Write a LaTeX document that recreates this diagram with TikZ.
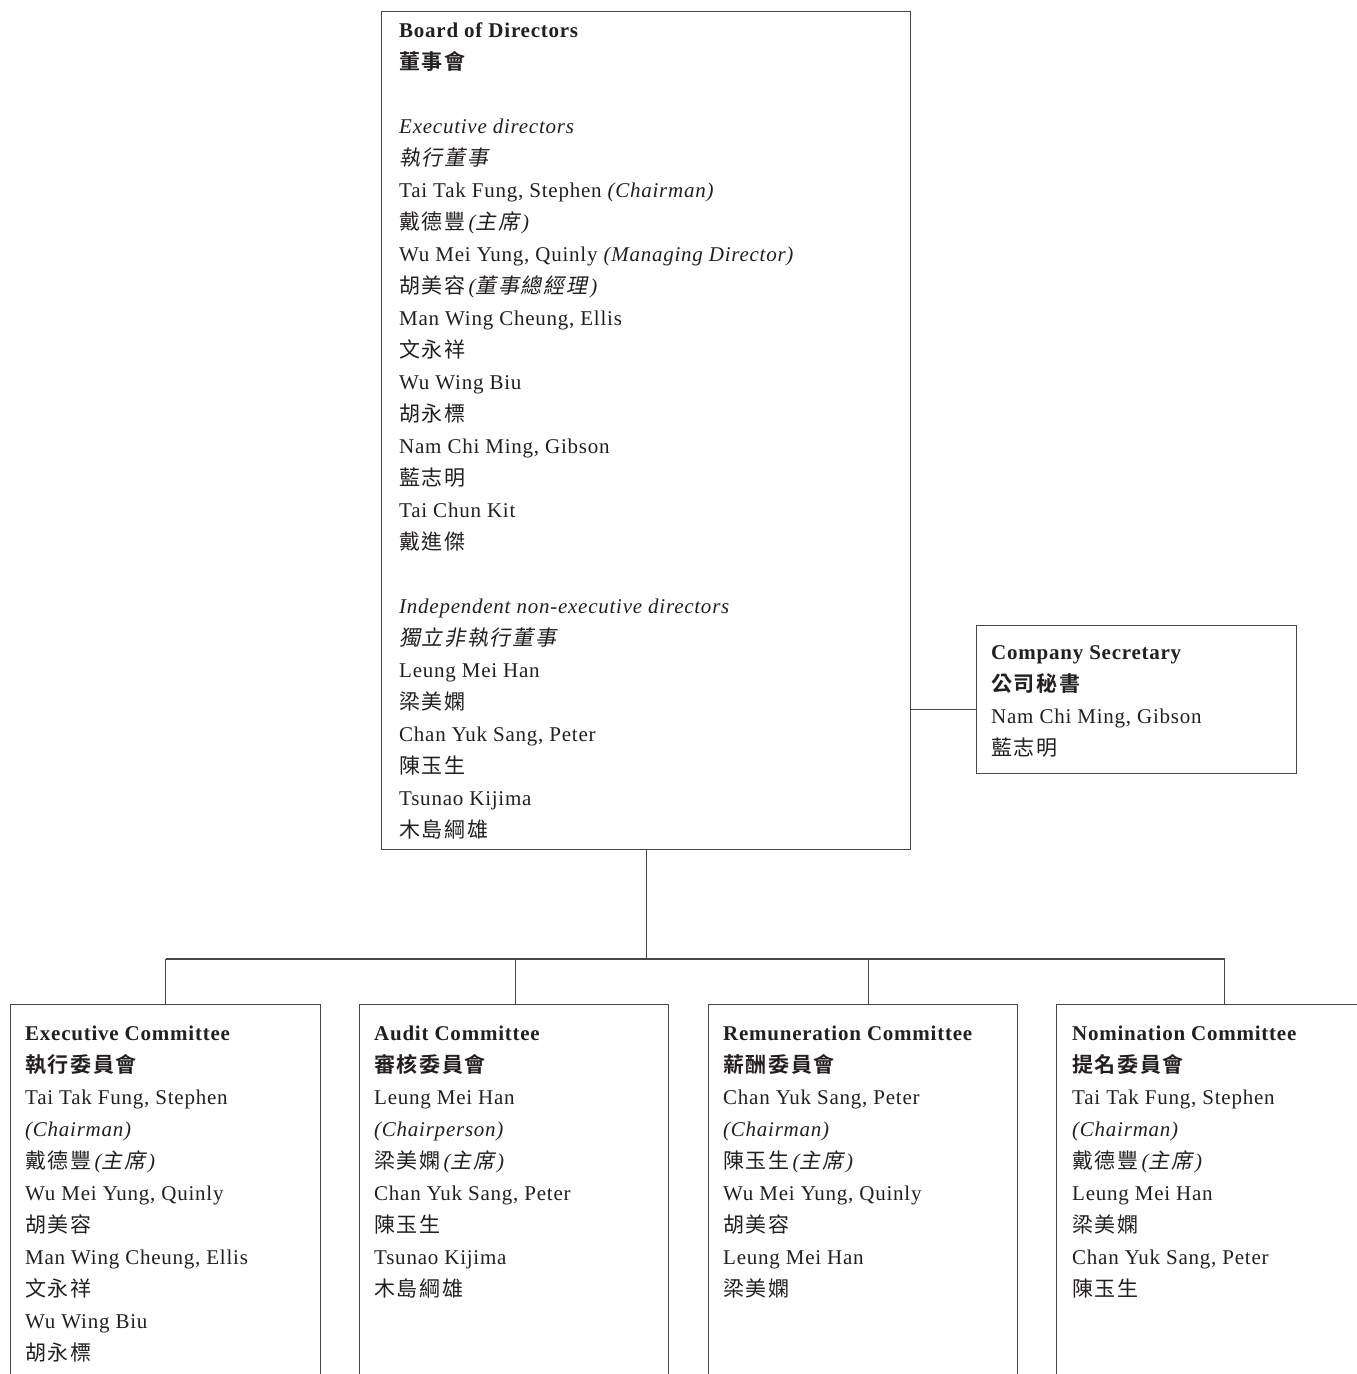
\documentclass[tikz,border=0pt]{standalone}
\usepackage{fontspec}
\setmainfont{Liberation Serif}[LetterSpace=3.6]
\newfontfamily\cjk{Noto Sans CJK TC}[LetterSpace=8,
  BoldFont={Noto Sans CJK TC Bold},
  ItalicFont={Noto Sans CJK TC}, ItalicFeatures={FakeSlant=0.2}]
\newcommand{\zh}[1]{{\cjk #1}}
\newcommand{\zhnote}[1]{\kern3pt\textit{(\zh{#1}\kern3pt)}}
\definecolor{inktext}{HTML}{231F20}
\definecolor{inkline}{HTML}{4A4648}

\begin{document}
\begin{tikzpicture}[
       x=1pt, y=-1pt,
       box/.style={draw=inkline, line width=1.4pt, anchor=north west, inner sep=0pt},
       names/.style={anchor=north west, inner sep=0pt, align=left, text=inktext,
                     font=\fontsize{21}{32}\selectfont},
       link/.style={draw=inkline, line width=1.1pt}
   ]
   \useasboundingbox (0,0) rectangle (1357,1374);

   % board and secretary
   \node[box, minimum width=529pt, minimum height=838pt] (board) at (381,11) {};
   \node[names] (boardtext) at ([shift={(18pt,-11.5pt)}]board.north west) {%
       \textbf{Board of Directors}\\
       \textbf{\zh{董事會}}\\[32pt]
       \textit{Executive directors}\\
       \textit{\zh{執行董事}}\\
       Tai Tak Fung, Stephen \textit{(Chairman)}\\
       \zh{戴德豐}\zhnote{主席}\\
       Wu Mei Yung, Quinly \textit{(Managing Director)}\\
       \zh{胡美容}\zhnote{董事總經理}\\
       Man Wing Cheung, Ellis\\
       \zh{文永祥}\\
       Wu Wing Biu\\
       \zh{胡永標}\\
       Nam Chi Ming, Gibson\\
       \zh{藍志明}\\
       Tai Chun Kit\\
       \zh{戴進傑}\\[32pt]
       \textit{Independent non-executive directors}\\
       \textit{\zh{獨立非執行董事}}\\
       Leung Mei Han\\
       \zh{梁美嫻}\\
       Chan Yuk Sang, Peter\\
       \zh{陳玉生}\\
       Tsunao Kijima\\
       \zh{木島綱雄}};

   \node[box, minimum width=320pt, minimum height=148pt] (sec) at (976,625) {};
   \node[names] (sectext) at ([shift={(15pt,-20pt)}]sec.north west) {%
       \textbf{Company Secretary}\\
       \textbf{\zh{公司秘書}}\\
       Nam Chi Ming, Gibson\\
       \zh{藍志明}};

   % committees
   \node[box, minimum width=310pt, minimum height=420pt] (exec) at (10,1004) {};
   \node[names] (exectext) at ([shift={(15pt,-21.5pt)}]exec.north west) {%
       \textbf{Executive Committee}\\
       \textbf{\zh{執行委員會}}\\
       Tai Tak Fung, Stephen\\
       \textit{(Chairman)}\\
       \zh{戴德豐}\zhnote{主席}\\
       Wu Mei Yung, Quinly\\
       \zh{胡美容}\\
       Man Wing Cheung, Ellis\\
       \zh{文永祥}\\
       Wu Wing Biu\\
       \zh{胡永標}};

   \node[box, minimum width=309pt, minimum height=420pt] (audit) at (359,1004) {};
   \node[names] (audittext) at ([shift={(15pt,-21.5pt)}]audit.north west) {%
       \textbf{Audit Committee}\\
       \textbf{\zh{審核委員會}}\\
       Leung Mei Han\\
       \textit{(Chairperson)}\\
       \zh{梁美嫻}\zhnote{主席}\\
       Chan Yuk Sang, Peter\\
       \zh{陳玉生}\\
       Tsunao Kijima\\
       \zh{木島綱雄}};

   \node[box, minimum width=309pt, minimum height=420pt] (remun) at (708,1004) {};
   \node[names] (remuntext) at ([shift={(15pt,-21.5pt)}]remun.north west) {%
       \textbf{Remuneration Committee}\\
       \textbf{\zh{薪酬委員會}}\\
       Chan Yuk Sang, Peter\\
       \textit{(Chairman)}\\
       \zh{陳玉生}\zhnote{主席}\\
       Wu Mei Yung, Quinly\\
       \zh{胡美容}\\
       Leung Mei Han\\
       \zh{梁美嫻}};

   \node[box, minimum width=340pt, minimum height=420pt] (nomin) at (1056,1004) {};
   \node[names] (nomintext) at ([shift={(16pt,-21.5pt)}]nomin.north west) {%
       \textbf{Nomination Committee}\\
       \textbf{\zh{提名委員會}}\\
       Tai Tak Fung, Stephen\\
       \textit{(Chairman)}\\
       \zh{戴德豐}\zhnote{主席}\\
       Leung Mei Han\\
       \zh{梁美嫻}\\
       Chan Yuk Sang, Peter\\
       \zh{陳玉生}};

   % connectors
   \coordinate (secline) at ([yshift=-10pt]sec.west);
   \draw[link] (board.east |- secline) -- (secline);

   \coordinate (bus) at (board.south |- 0,959);
   \draw[link] (board.south) -- (bus);
   \draw[link] (exec.north |- bus) -- ([xshift=-2pt]nomin.north |- bus);
   \foreach \c/\dx in {exec/0,audit/1,remun/5,nomin/-2} {
       \draw[link] ([xshift=\dx pt]\c.north |- bus) -- ([xshift=\dx pt]\c.north);
   }
\end{tikzpicture}
\end{document}
